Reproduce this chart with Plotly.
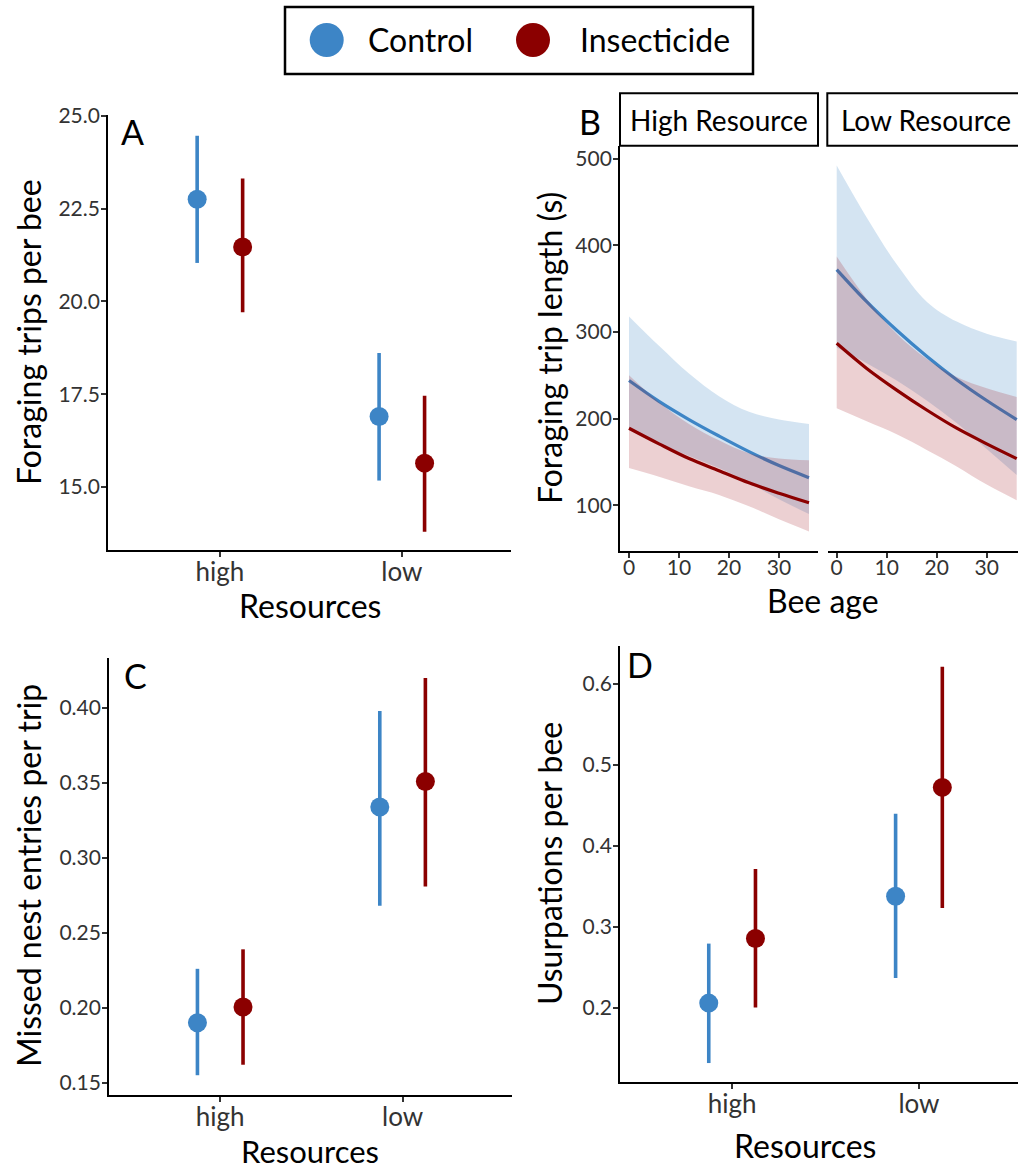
import plotly.graph_objects as go

W, H = 1018, 1172
FONT = "Lato"
BLUE = "#3D85C6"
RED = "#8B0000"
BLUE_FILL = "rgba(61,133,198,0.22)"
RED_FILL = "rgba(160,20,30,0.20)"
TICKC = "#333333"

# ---------------- data ----------------
resources = ["high", "low"]
groups = ["Control", "Insecticide"]

# Panel A: foraging trips per bee
A_ctrl_mean = [22.76, 16.90]
A_ctrl_lo = [21.04, 15.17]
A_ctrl_hi = [24.47, 18.61]
A_ins_mean = [21.47, 15.64]
A_ins_lo = [19.71, 13.79]
A_ins_hi = [23.32, 17.46]

# Panel C: missed nest entries per trip
C_ctrl_mean = [0.190, 0.334]
C_ctrl_lo = [0.155, 0.268]
C_ctrl_hi = [0.226, 0.398]
C_ins_mean = [0.2005, 0.351]
C_ins_lo = [0.162, 0.281]
C_ins_hi = [0.239, 0.420]

# Panel D: usurpations per bee
D_ctrl_mean = [0.206, 0.338]
D_ctrl_lo = [0.132, 0.237]
D_ctrl_hi = [0.2795, 0.440]
D_ins_mean = [0.2857, 0.4724]
D_ins_lo = [0.2007, 0.3235]
D_ins_hi = [0.3716, 0.6214]

# Panel B: foraging trip length vs bee age
bee_age = [0, 6, 12, 18, 24, 30, 36]
B_high_ctrl_mean = [244, 220, 199, 180, 162, 146, 132]
B_high_ctrl_hi = [318, 284, 252, 226, 208, 199, 194]
B_high_ctrl_lo = [187, 171, 157, 143, 126, 107, 90]
B_high_ins_mean = [189, 171, 154, 140, 126, 114, 103]
B_high_ins_hi = [250, 219, 194, 175, 160, 154, 152]
B_high_ins_lo = [143, 133, 122, 112, 99, 84, 70]
B_low_ctrl_mean = [372, 335, 302, 272, 245, 221, 199]
B_low_ctrl_hi = [492, 432, 378, 335, 312, 298, 289]
B_low_ctrl_lo = [282, 264, 244, 221, 195, 165, 135]
B_low_ins_mean = [287, 258, 233, 210, 189, 171, 154]
B_low_ins_hi = [387, 338, 298, 269, 248, 235, 225]
B_low_ins_lo = [212, 197, 182, 164, 145, 124, 106]

facet_labels = ["High Resource", "Low Resource"]
DODGE = 0.125


def px(x):
    return x / W


def py(y):
    return 1 - y / H


fig = go.Figure()


def add_points(mean, lo, hi, color, name, offset, xa, ya):
    xs = [i + 1 + offset for i in range(len(resources))]
    fig.add_trace(go.Scatter(
        x=xs, y=mean, mode="markers", name=name, showlegend=False,
        marker=dict(size=19, color=color),
        error_y=dict(type="data", symmetric=False,
                     array=[h - m for h, m in zip(hi, mean)],
                     arrayminus=[m - l for m, l in zip(mean, lo)],
                     width=0, thickness=3.6, color=color),
        xaxis=xa, yaxis=ya))


add_points(A_ctrl_mean, A_ctrl_lo, A_ctrl_hi, BLUE, groups[0], -DODGE, "x", "y")
add_points(A_ins_mean, A_ins_lo, A_ins_hi, RED, groups[1], DODGE, "x", "y")
add_points(C_ctrl_mean, C_ctrl_lo, C_ctrl_hi, BLUE, groups[0], -DODGE, "x4", "y4")
add_points(C_ins_mean, C_ins_lo, C_ins_hi, RED, groups[1], DODGE, "x4", "y4")
add_points(D_ctrl_mean, D_ctrl_lo, D_ctrl_hi, BLUE, groups[0], -DODGE, "x5", "y5")
add_points(D_ins_mean, D_ins_lo, D_ins_hi, RED, groups[1], DODGE, "x5", "y5")


def add_band(mean, lo, hi, color, fill, name, xa, ya):
    fig.add_trace(go.Scatter(x=bee_age, y=lo, mode="lines", line=dict(width=0, shape="spline"),
                             showlegend=False, hoverinfo="skip", xaxis=xa, yaxis=ya))
    fig.add_trace(go.Scatter(x=bee_age, y=hi, mode="lines", line=dict(width=0, shape="spline"),
                             fill="tonexty", fillcolor=fill, showlegend=False, hoverinfo="skip",
                             xaxis=xa, yaxis=ya))
    fig.add_trace(go.Scatter(x=bee_age, y=mean, mode="lines", name=name,
                             line=dict(width=3.2, color=color, shape="spline"),
                             showlegend=False, xaxis=xa, yaxis=ya))


add_band(B_high_ctrl_mean, B_high_ctrl_lo, B_high_ctrl_hi, BLUE, BLUE_FILL, groups[0], "x2", "y2")
add_band(B_high_ins_mean, B_high_ins_lo, B_high_ins_hi, RED, RED_FILL, groups[1], "x2", "y2")
add_band(B_low_ctrl_mean, B_low_ctrl_lo, B_low_ctrl_hi, BLUE, BLUE_FILL, groups[0], "x3", "y3")
add_band(B_low_ins_mean, B_low_ins_lo, B_low_ins_hi, RED, RED_FILL, groups[1], "x3", "y3")

axis_common = dict(showline=True, linecolor="black", linewidth=1.8, ticks="outside",
                   ticklen=5, tickwidth=1.5, tickcolor=TICKC, showgrid=False, zeroline=False,
                   automargin=False,
                   tickfont=dict(family=FONT, size=21, color=TICKC), fixedrange=True)
xnum = {**axis_common, "ticklabelstandoff": -8}
ynum = {**axis_common, "ticklabelstandoff": -3}
xcat = {**axis_common, "tickfont": dict(family=FONT, size=26, color=TICKC),
        "ticklabelstandoff": -7}

fig.update_layout(
    template="none",
    width=W, height=H, margin=dict(l=0, r=0, t=0, b=0, pad=0, autoexpand=False),
    paper_bgcolor="white", plot_bgcolor="white", showlegend=False,
    font=dict(family=FONT, color="black"),
    # Panel A
    xaxis=dict(domain=[px(108), px(511)], range=[0.385, 2.6], anchor="y",
               tickvals=[1, 2], ticktext=resources, **xcat),
    yaxis=dict(domain=[py(550), py(115)], range=[13.297, 25.03], anchor="x",
               tickvals=[15, 17.5, 20, 22.5, 25], tickformat=".1f", **ynum),
    # Panel B facets
    xaxis2=dict(domain=[px(620), px(818)], range=[-1.8, 37.8], anchor="y2",
                tickvals=[0, 10, 20, 30], **xnum),
    yaxis2=dict(domain=[py(551), py(146)], range=[47.4, 514.5], anchor="x2",
                tickvals=[100, 200, 300, 400, 500], **ynum),
    xaxis3=dict(domain=[px(827.7), 1.0], range=[-1.8, 36.26], anchor="y3",
                tickvals=[0, 10, 20, 30], **xnum),
    yaxis3=dict(domain=[py(551), py(146)], range=[47.4, 514.5], anchor="x3",
                **{**axis_common, "showline": False, "ticks": "", "showticklabels": False}),
    # Panel C
    xaxis4=dict(domain=[px(109), px(512)], range=[0.39, 2.6], anchor="y4",
                tickvals=[1, 2], ticktext=resources, **xcat),
    yaxis4=dict(domain=[py(1095), py(658)], range=[0.1418, 0.4334], anchor="x4",
                tickvals=[0.15, 0.20, 0.25, 0.30, 0.35, 0.40], tickformat=".2f", **ynum),
    # Panel D
    xaxis5=dict(domain=[px(620), 1.0], range=[0.4, 2.53], anchor="y5",
                tickvals=[1, 2], ticktext=resources, **xcat),
    yaxis5=dict(domain=[py(1082), py(646)], range=[0.1086, 0.647], anchor="x5",
                tickvals=[0.2, 0.3, 0.4, 0.5, 0.6], tickformat=".1f", **ynum),
)

shapes = []
annotations = []


def ann(text, x, y, size, angle=0, xanchor="center", color="black"):
    annotations.append(dict(text=text, x=px(x), y=py(y), xref="paper", yref="paper",
                            showarrow=False, textangle=angle, xanchor=xanchor, yanchor="middle",
                            font=dict(family=FONT, size=size, color=color)))


# facet strips
for (x0, x1, cx), lab in zip([(620, 818, 718.5), (827.3, 1030, 926)], facet_labels):
    shapes.append(dict(type="rect", xref="paper", yref="paper", x0=px(x0), x1=px(x1),
                       y0=py(145.7), y1=py(93.3), line=dict(color="black", width=2),
                       fillcolor="white", layer="above"))
    ann(lab, cx, 120, 28)

# panel letters
ann("A", 132, 131, 34)
ann("B", 590, 121, 34)
ann("C", 135, 675, 34)
ann("D", 640, 665, 34)

# axis titles
TS = 32
ann("Foraging trips per bee", 28, 332, TS, angle=-90)
ann("Resources", 310, 605, TS)
ann("Foraging trip length (s)", 549, 348, TS, angle=-90)
ann("Bee age", 823, 600, TS)
ann("Missed nest entries per trip", 28, 876, TS, angle=-90)
ann("Resources", 310, 1151, 31)
ann("Usurpations per bee", 549, 864, TS, angle=-90)
ann("Resources", 805, 1145, TS)

# legend
shapes.append(dict(type="rect", xref="paper", yref="paper", x0=px(285), x1=px(753),
                   y0=py(74), y1=py(7), line=dict(color="black", width=2.5), fillcolor="white"))
for cx, col, lab, tx in [(326.7, BLUE, groups[0], 366), (533, RED, groups[1], 578)]:
    shapes.append(dict(type="circle", xref="paper", yref="paper", x0=px(cx - 17), x1=px(cx + 17),
                       y0=py(40 + 17), y1=py(40 - 17), line=dict(width=0), fillcolor=col))
    ann(lab, tx, 40, 32, xanchor="left")

fig.update_layout(shapes=shapes, annotations=annotations)
fig.write_html("out.html")
